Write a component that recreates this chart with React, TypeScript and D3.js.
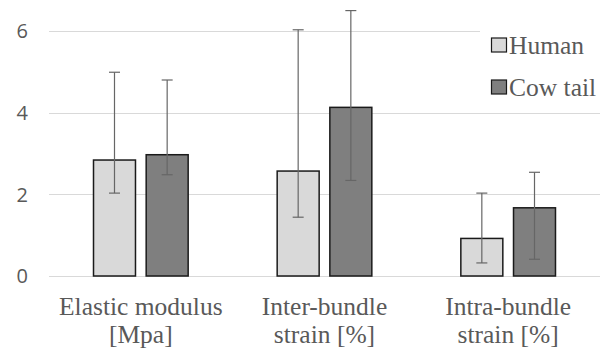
import * as d3 from "d3";

const categories = [["Elastic modulus", "[Mpa]"], ["Inter-bundle", "strain [%]"], ["Intra-bundle", "strain [%]"]];
const seriesNames = ["Human", "Cow tail"];
const humanValues = [2.84, 2.57, 0.92];
const humanLow = [2.03, 1.44, 0.32];
const humanHigh = [4.99, 6.03, 2.03];
const cowValues = [2.97, 4.13, 1.67];
const cowLow = [2.48, 2.34, 0.41];
const cowHigh = [4.8, 6.5, 2.54];
const yTicks = [0, 2, 4, 6];
const colors = ["#d9d9d9", "#7f7f7f"];

const textColor = "#595959";

const App = () => {
    const w = 606;
    const h = 349;
    const keys = categories.map((c) => c.join(" "));
    const xScale = d3.scaleBand().domain(keys).range([49, 600]);
    const xSub = d3
        .scaleBand()
        .domain(seriesNames)
        .range([0, xScale.bandwidth()])
        .paddingInner(0.203)
        .paddingOuter(0.845);
    const yScale = d3.scaleLinear().domain([0, 6]).range([276, 31]);

    const rows = keys.flatMap((k, i) => [
        { key: k, s: seriesNames[0], v: humanValues[i], lo: humanLow[i], hi: humanHigh[i], c: colors[0] },
        { key: k, s: seriesNames[1], v: cowValues[i], lo: cowLow[i], hi: cowHigh[i], c: colors[1] },
    ]);

    return (
        <svg width={w} height={h} style={{ position: "absolute", left: 0, top: 0, display: "block" }}>
            <style>{`text.serif { font-family: "Liberation Serif", serif !important; font-size: 25.5px !important; }`}</style>
            {/* gridlines + y labels */}
            {yTicks.map((t) => {
                const y = Math.round(yScale(t)) + 0.5;
                return (
                    <g key={t}>
                        <line x1={49} x2={600} y1={y} y2={y} stroke="#d9d9d9" strokeWidth={1} />
                        <text
                            x={28}
                            y={yScale(t)}
                            dy="0.36em"
                            textAnchor="end"
                            fill={textColor}
                            fontFamily="Open Sans"
                            fontSize={20}
                        >
                            {t}
                        </text>
                    </g>
                );
            })}

            {/* bars */}
            {rows.map((d) => (
                <rect
                    key={d.key + d.s}
                    x={xScale(d.key)! + xSub(d.s)!}
                    y={yScale(d.v)}
                    width={xSub.bandwidth()}
                    height={yScale(0) - yScale(d.v)}
                    fill={d.c}
                    stroke="#1a1a1a"
                    strokeWidth={1.5}
                />
            ))}

            {/* error bars */}
            <g stroke="#666" strokeWidth={1.2} fill="none">
                {rows.map((d) => {
                    const cx = xScale(d.key)! + xSub(d.s)! + xSub.bandwidth() / 2;
                    return (
                        <g key={d.key + d.s}>
                            <line x1={cx} x2={cx} y1={yScale(d.lo)} y2={yScale(d.hi)} />
                            <line x1={cx - 5.5} x2={cx + 5.5} y1={yScale(d.lo)} y2={yScale(d.lo)} />
                            <line x1={cx - 5.5} x2={cx + 5.5} y1={yScale(d.hi)} y2={yScale(d.hi)} />
                        </g>
                    );
                })}
            </g>

            {/* category labels */}
            {categories.map((c, i) => {
                const cx = xScale(keys[i])! + xScale.bandwidth() / 2;
                return c.map((line, j) => (
                    <text
                        key={i + "-" + j}
                        className="serif"
                        x={cx}
                        y={315 + j * 28}
                        textAnchor="middle"
                        fill={textColor}
                        fontFamily="Liberation Serif"
                        fontSize={25.5}
                    >
                        {line}
                    </text>
                ));
            })}

            {/* legend */}
            <rect x={480} y={18} width={126} height={88} fill="#fff" />
            {seriesNames.map((s, i) => {
                const cy = 45 + i * 42;
                return (
                    <g key={s}>
                        <rect x={491.5} y={cy - 7} width={15} height={14} fill={colors[i]} stroke="#1a1a1a" strokeWidth={1.2} />
                        <text className="serif" x={509} y={cy + 8.5} fill={textColor} fontFamily="Liberation Serif" fontSize={25.5}>
                            {s}
                        </text>
                    </g>
                );
            })}
        </svg>
    );
};

export default App;
